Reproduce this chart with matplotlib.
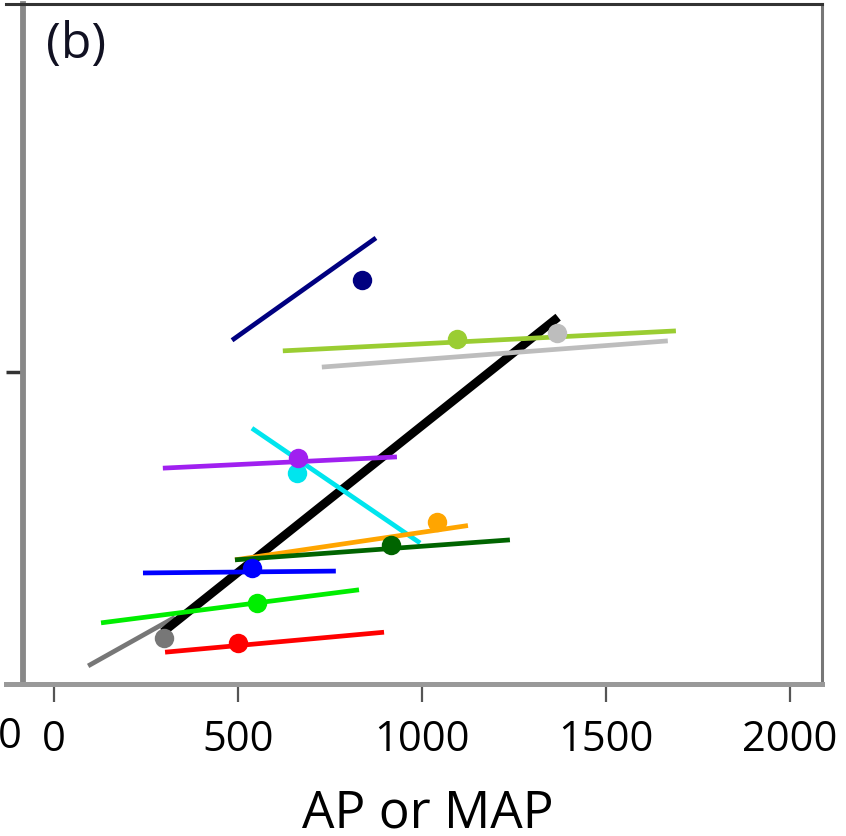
import matplotlib.pyplot as plt
from matplotlib.lines import Line2D

# groups, each a fitted segment plus a mean point
groups = ['navy', 'yellowgreen', 'lightgray', 'cyan', 'purple', 'orange',
          'darkgreen', 'blue', 'green', 'red', 'gray']
x_start = [484, 622, 728, 538, 296, 492, 492, 242, 128, 302, 93]
x_end = [875, 1690, 1668, 995, 932, 1125, 1239, 766, 829, 897, 329]
y_start = [0.551, 0.534, 0.508, 0.410, 0.346, 0.199, 0.199, 0.178, 0.098, 0.051, 0.029]
y_end = [0.715, 0.566, 0.550, 0.226, 0.364, 0.254, 0.231, 0.181, 0.151, 0.083, 0.107]
dot_x = [837, 1095, 1367, 660, 663, 1040, 916, 538, 552, 500, 299]
dot_y = [0.647, 0.553, 0.562, 0.338, 0.362, 0.260, 0.223, 0.186, 0.130, 0.066, 0.074]

# overall fit
all_x = [296, 1370]
all_y = [0.083, 0.588]

xticks = [0, 500, 1000, 1500, 2000]

cols = ['#000080', '#9acd32', '#bdbdbd', '#00e5ee', '#a020f0', '#ffa500',
        '#006400', '#0000ff', '#00ee00', '#ff0000', '#777777']

plt.rcParams['font.family'] = ['Open Sans', 'DejaVu Sans']

fig = plt.figure(figsize=(8.46, 8.36), dpi=100)
W, H = 846, 836
ax = fig.add_axes([23 / W, (H - 684) / H, (822 - 23) / W, (684 - 4) / H])

for i in range(len(groups)):
    z = 1 if groups[i] == 'gray' else 3
    ax.plot([x_start[i], x_end[i]], [y_start[i], y_end[i]], color=cols[i],
            lw=3.4, solid_capstyle='butt', zorder=z)
    ax.plot(dot_x[i], dot_y[i], 'o', color=cols[i], ms=14, mec='none', zorder=4)

ax.plot(all_x, all_y, color='black', lw=6.2, solid_capstyle='butt', zorder=2)

ax.set_xlim(-84, 2087)
ax.set_ylim(0, 1.09)
ax.set_xticks(xticks)
ax.set_xticklabels([str(v) for v in xticks], fontsize=30)
ax.set_yticks([0.5])
ax.set_yticklabels([''])
ax.tick_params(axis='x', length=13, width=1.6, color='#555555', pad=12)
ax.tick_params(axis='y', length=12, width=2.5, color='#333333')

ax.spines['left'].set_color('#888888')
ax.spines['left'].set_linewidth(4.2)
ax.spines['bottom'].set_color('#999999')
ax.spines['bottom'].set_linewidth(3.6)
ax.spines['top'].set_color('#333333')
ax.spines['top'].set_linewidth(2.2)
ax.spines['right'].set_color('#777777')
ax.spines['right'].set_linewidth(2.2)

# box edges continue a little to the left of the y axis
fig.add_artist(Line2D([6 / W, 23 / W], [(H - 4) / H] * 2, color='#333333', lw=2.2))
fig.add_artist(Line2D([6 / W, 23 / W], [(H - 684) / H] * 2, color='#999999', lw=3.6))

# axis title sits low, right at the bottom edge
fig.text(428 / W, (H - 828) / H, 'AP or MAP', fontsize=37, ha='center', va='baseline')
# leftover tick label from the neighbouring panel, cut by the edge
fig.text(10 / W, (H - 737) / H, '0', fontsize=30, ha='center', va='center')
fig.text(46 / W, (H - 45) / H, '(b)', fontsize=36, color='#111122', va='center')

fig.savefig('out.png', dpi=100)
